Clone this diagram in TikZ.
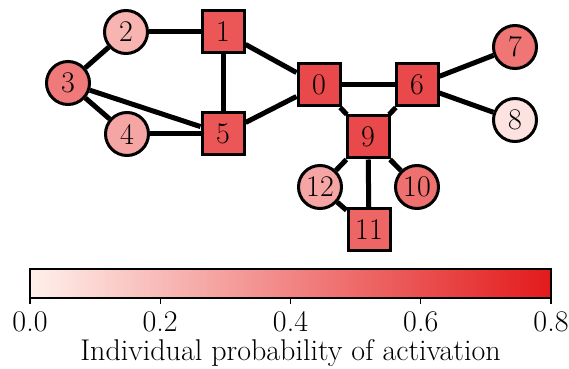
\documentclass[tikz,border=0pt]{standalone}
\definecolor{actlow}{RGB}{255,240,235}
\definecolor{acthigh}{RGB}{227,26,28}
\begin{document}
\begin{tikzpicture}[x=0.5pt,y=-0.5pt,
  every node/.style={font=\fontsize{15}{18}\selectfont},
  agent/.style={circle,draw=black,line width=1.5pt,minimum size=21.5pt,inner sep=0pt},
  seed/.style={rectangle,draw=black,line width=1.5pt,minimum size=21pt,inner sep=0pt},
  link/.style={line width=2.5pt}]
  \useasboundingbox (0,0) rectangle (569,369);
  % network
  \node[seed,fill=acthigh!78!actlow]  (n0)  at (319,85)  {0};
  \node[seed,fill=acthigh!72!actlow]  (n1)  at (223,32)  {1};
  \node[agent,fill=acthigh!28!actlow] (n2)  at (126,32)  {2};
  \node[agent,fill=acthigh!55!actlow] (n3)  at (68,83)   {3};
  \node[agent,fill=acthigh!35!actlow] (n4)  at (127,134) {4};
  \node[seed,fill=acthigh!72!actlow]  (n5)  at (223,134) {5};
  \node[seed,fill=acthigh!78!actlow]  (n6)  at (417,85)  {6};
  \node[agent,fill=acthigh!57!actlow] (n7)  at (515,47)  {7};
  \node[agent,fill=acthigh!6!actlow]  (n8)  at (515,120) {8};
  \node[seed,fill=acthigh!78!actlow]  (n9)  at (368,137) {9};
  \node[agent,fill=acthigh!60!actlow] (n10) at (417,187) {10};
  \node[seed,fill=acthigh!65!actlow]  (n11) at (369,230) {11};
  \node[agent,fill=acthigh!35!actlow] (n12) at (320,187) {12};
  \draw[link] (n2) -- (n1);
  \draw[link] (n2) -- (n3);
  \draw[link] (n3) -- (n4);
  \draw[link] (n3) -- (n5);
  \draw[link] (n4) -- (n5);
  \draw[link] (n1) -- (n5);
  \draw[link] (n1) -- (n0);
  \draw[link] (n5) -- (n0);
  \draw[link] (n0) -- (n6);
  \draw[link] (n0) -- (n9);
  \draw[link] (n6) -- (n9);
  \draw[link] (n6) -- (n7);
  \draw[link] (n6) -- (n8);
  \draw[link] (n9) -- (n12);
  \draw[link] (n9) -- (n11);
  \draw[link] (n9) -- (n10);
  \draw[link] (n12) -- (n11);
  % colour bar
  \shade[left color=actlow,right color=acthigh] (30,269) rectangle (551,298);
  \draw[line width=1pt] (30,269) rectangle (551,298);
  \draw[line width=0.6pt] (30,298) -- (30,304);
  \draw[line width=0.6pt] (160.25,298) -- (160.25,304);
  \draw[line width=0.6pt] (290.5,298) -- (290.5,304);
  \draw[line width=0.6pt] (420.75,298) -- (420.75,304);
  \draw[line width=0.6pt] (551,298) -- (551,304);
  \node (tick0) at (30,322)     {0.0};
  \node (tick1) at (160.25,322) {0.2};
  \node (tick2) at (290.5,322)  {0.4};
  \node (tick3) at (420.75,322) {0.6};
  \node (tick4) at (551,322)    {0.8};
  \node (cbarlabel) at (290.5,353) {Individual probability of activation};
\end{tikzpicture}
\end{document}
